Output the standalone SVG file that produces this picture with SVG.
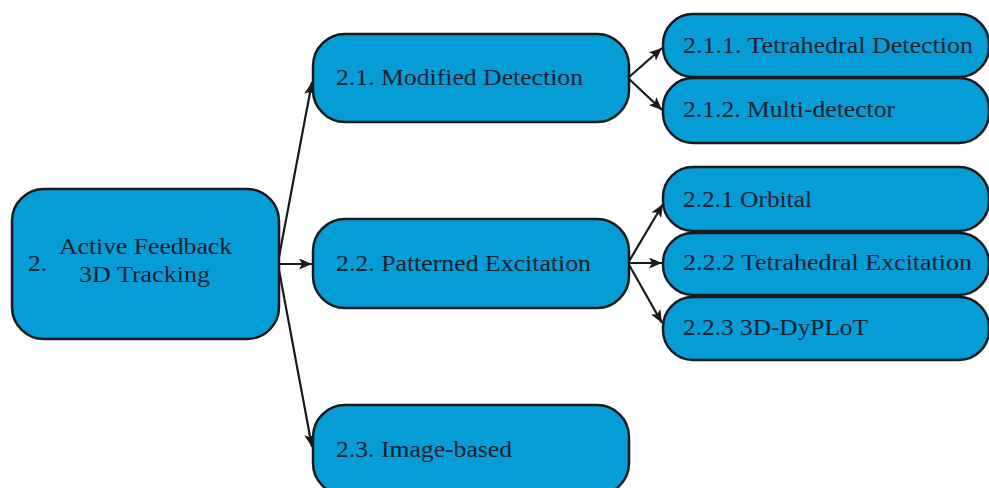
<svg xmlns="http://www.w3.org/2000/svg" width="989" height="488" viewBox="0 0 989 488">
<style>
.box{fill:#069dd7;stroke:#1a1a1a;stroke-width:2.5}
.t{font-family:"Liberation Serif","Times New Roman",serif;font-size:23px;fill:#18222c}
.c line{stroke:#1a1a1a;stroke-width:2.2;marker-end:url(#ah)}
</style>
<defs>
<marker id="ah" markerUnits="userSpaceOnUse" markerWidth="13" markerHeight="11" refX="13" refY="5.5" orient="auto">
<path d="M0,0 L13,5.5 L0,11 L3,5.5 z" fill="#1a1a1a"/>
</marker>
</defs>
<g id="connectors" class="c">
<line x1="279" y1="257" x2="312" y2="82"/>
<line x1="279" y1="264" x2="312" y2="264"/>
<line x1="279" y1="270" x2="312" y2="447"/>
<line x1="628" y1="78" x2="662" y2="48"/>
<line x1="628" y1="78" x2="662" y2="110"/>
<line x1="628" y1="263" x2="663" y2="204"/>
<line x1="628" y1="263" x2="662" y2="263"/>
<line x1="628" y1="263" x2="662" y2="323"/>
</g>
<g id="n2">
<rect class="box" x="12" y="189" width="267" height="150" rx="32"/>
<text class="t" x="28" y="271" textLength="19" lengthAdjust="spacingAndGlyphs">2.</text>
<text class="t" x="59" y="254" textLength="173" lengthAdjust="spacingAndGlyphs">Active Feedback</text>
<text class="t" x="79" y="282" textLength="131" lengthAdjust="spacingAndGlyphs">3D Tracking</text>
</g>
<g id="n21">
<rect class="box" x="313" y="34" width="316" height="88" rx="32"/>
<text class="t" x="336" y="85" textLength="247" lengthAdjust="spacingAndGlyphs">2.1. Modified Detection</text>
</g>
<g id="n22">
<rect class="box" x="313" y="219" width="316" height="89" rx="32"/>
<text class="t" x="336" y="271" textLength="255" lengthAdjust="spacingAndGlyphs">2.2. Patterned Excitation</text>
</g>
<g id="n23">
<rect class="box" x="313" y="405" width="316" height="90" rx="32"/>
<text class="t" x="336" y="457" textLength="176" lengthAdjust="spacingAndGlyphs">2.3. Image-based</text>
</g>
<g id="n211">
<rect class="box" x="663" y="14" width="326" height="63" rx="30"/>
<text class="t" x="683" y="53" textLength="290" lengthAdjust="spacingAndGlyphs">2.1.1. Tetrahedral Detection</text>
</g>
<g id="n212">
<rect class="box" x="663" y="78" width="326" height="65" rx="30"/>
<text class="t" x="683" y="117" textLength="212" lengthAdjust="spacingAndGlyphs">2.1.2. Multi-detector</text>
</g>
<g id="n221">
<rect class="box" x="663" y="167" width="326" height="64" rx="30"/>
<text class="t" x="683" y="207" textLength="129" lengthAdjust="spacingAndGlyphs">2.2.1 Orbital</text>
</g>
<g id="n222">
<rect class="box" x="663" y="233" width="326" height="62" rx="30"/>
<text class="t" x="683" y="270" textLength="289" lengthAdjust="spacingAndGlyphs">2.2.2 Tetrahedral Excitation</text>
</g>
<g id="n223">
<rect class="box" x="663" y="297" width="326" height="63" rx="30"/>
<text class="t" x="683" y="335" textLength="185" lengthAdjust="spacingAndGlyphs">2.2.3 3D-DyPLoT</text>
</g>
</svg>
